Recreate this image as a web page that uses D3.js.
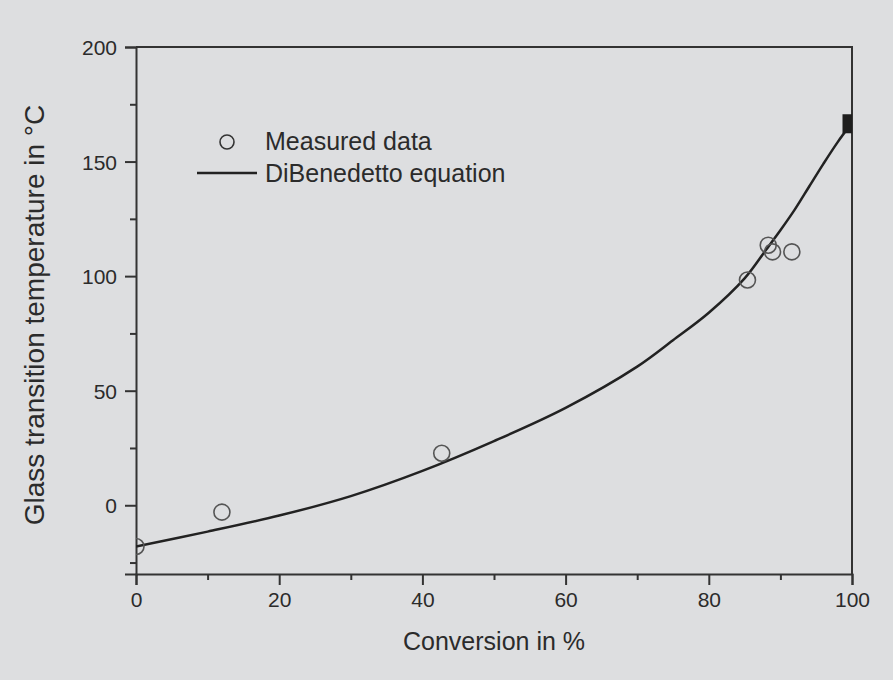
<!DOCTYPE html>
<html>
<head>
<meta charset="utf-8">
<script src="https://cdn.jsdelivr.net/npm/d3@7"></script>
<style>
  body { margin: 0; background: #dddee0; }
  text { font-family: "Liberation Sans", Arial, sans-serif; fill: #2b2b2b; }
</style>
</head>
<body>
<svg id="chart"></svg>
<script>
// measured points
let convMeasured = [0, 12, 42.7, 85.4, 88.3, 88.9, 91.6];
let tgMeasured = [-18, -3, 22.7, 98.3, 113.5, 110.6, 110.6];

// DiBenedetto curve
let convCurve = [0, 10, 20, 30, 40, 50, 60, 70, 75, 80, 85, 88, 90, 92, 94, 96, 98, 100];
let tgCurve = [-18, -11.5, -4.5, 4, 15, 28, 42.5, 60.5, 72, 84, 99, 111.5, 120, 129, 139, 149, 158.5, 167];

// fully cured point (black square)
let convCured = [100];
let tgCured = [166.5];

let xMajor = [0, 20, 40, 60, 80, 100];
let xMinor = [10, 30, 50, 70, 90];
let yMajor = [0, 50, 100, 150, 200];
let yMinor = [-25, 25, 75, 125, 175];

let width = 893;
let height = 680;
let margin = { left: 136, right: 41, top: 47, bottom: 106 };
let plotW = width - margin.left - margin.right;
let plotH = height - margin.top - margin.bottom;

let svg = d3.select("#chart").attr("width", width).attr("height", height);
svg.append("rect").attr("width", width).attr("height", height).attr("fill", "#dddee0");

let x = d3.scaleLinear().domain([0, 100]).range([0, plotW]);
let y = d3.scaleLinear().domain([-30, 200]).range([plotH, 0]);

let g = svg.append("g").attr("transform", `translate(${margin.left},${margin.top})`);

g.append("clipPath").attr("id", "plotclip")
  .append("rect").attr("width", plotW).attr("height", plotH);

let axisColor = "#333";

// box (top and right)
g.append("path")
  .attr("d", `M0,0H${plotW}V${plotH}`)
  .attr("fill", "none").attr("stroke", axisColor).attr("stroke-width", 2);

// bottom axis
let xAxis = g.append("g").attr("transform", `translate(0,${plotH})`)
  .call(d3.axisBottom(x).tickValues(xMajor).tickSize(11).tickPadding(7).tickFormat(d3.format("d")));
g.append("g").attr("transform", `translate(0,${plotH})`)
  .call(d3.axisBottom(x).tickValues(xMinor).tickSize(6).tickFormat(""))
  .call((a) => a.select(".domain").remove());

// left axis
let yAxis = g.append("g")
  .call(d3.axisLeft(y).tickValues(yMajor).tickSize(11).tickPadding(8).tickFormat(d3.format("d")));
g.append("g")
  .call(d3.axisLeft(y).tickValues(yMinor).tickSize(6).tickFormat(""))
  .call((a) => a.select(".domain").remove());

g.selectAll(".domain").attr("stroke", axisColor).attr("stroke-width", 2);
g.selectAll(".tick line").attr("stroke", axisColor).attr("stroke-width", 2);
g.selectAll(".tick text")
  .attr("font-size", 21)
  .style("font-size", "21px")
  .attr("fill", "#2b2b2b");
yAxis.selectAll(".tick text").attr("dy", "0.36em");

// curve
let curveData = convCurve.map((c, i) => [c, tgCurve[i]]);
let line = d3.line()
  .x((d) => x(d[0]))
  .y((d) => y(d[1]))
  .curve(d3.curveCatmullRom);

let plot = g.append("g").attr("clip-path", "url(#plotclip)");

plot.append("path")
  .datum(curveData)
  .attr("d", line)
  .attr("fill", "none")
  .attr("stroke", "#222")
  .attr("stroke-width", 2.5);

plot.selectAll("circle.meas")
  .data(convMeasured.map((c, i) => [c, tgMeasured[i]]))
  .enter()
  .append("circle")
  .attr("class", "meas")
  .attr("cx", (d) => x(d[0]))
  .attr("cy", (d) => y(d[1]))
  .attr("r", 8)
  .attr("fill", "none")
  .attr("stroke", "#555")
  .attr("stroke-width", 1.6);

plot.selectAll("rect.cured")
  .data(convCured.map((c, i) => [c, tgCured[i]]))
  .enter()
  .append("rect")
  .attr("class", "cured")
  .attr("x", (d) => x(d[0]) - 9.5)
  .attr("y", (d) => y(d[1]) - 9.5)
  .attr("width", 19)
  .attr("height", 19)
  .attr("fill", "#1e1e1e");

// legend
let legend = svg.append("g");
legend.append("circle")
  .attr("cx", 227).attr("cy", 142).attr("r", 7)
  .attr("fill", "none").attr("stroke", "#333").attr("stroke-width", 1.6);
legend.append("text").attr("x", 265).attr("y", 150)
  .style("font-size", "25px").text("Measured data");
legend.append("line")
  .attr("x1", 197).attr("x2", 257).attr("y1", 173).attr("y2", 173)
  .attr("stroke", "#222").attr("stroke-width", 2.5);
legend.append("text").attr("x", 265).attr("y", 182)
  .style("font-size", "25px").text("DiBenedetto equation");

// axis titles
svg.append("text")
  .attr("x", margin.left + plotW / 2)
  .attr("y", 650)
  .attr("text-anchor", "middle")
  .style("font-size", "25px")
  .text("Conversion in %");

svg.append("text")
  .attr("transform", `translate(44,315) rotate(-90)`)
  .attr("text-anchor", "middle")
  .style("font-size", "28px")
  .text("Glass transition temperature in °C");
</script>
</body>
</html>
